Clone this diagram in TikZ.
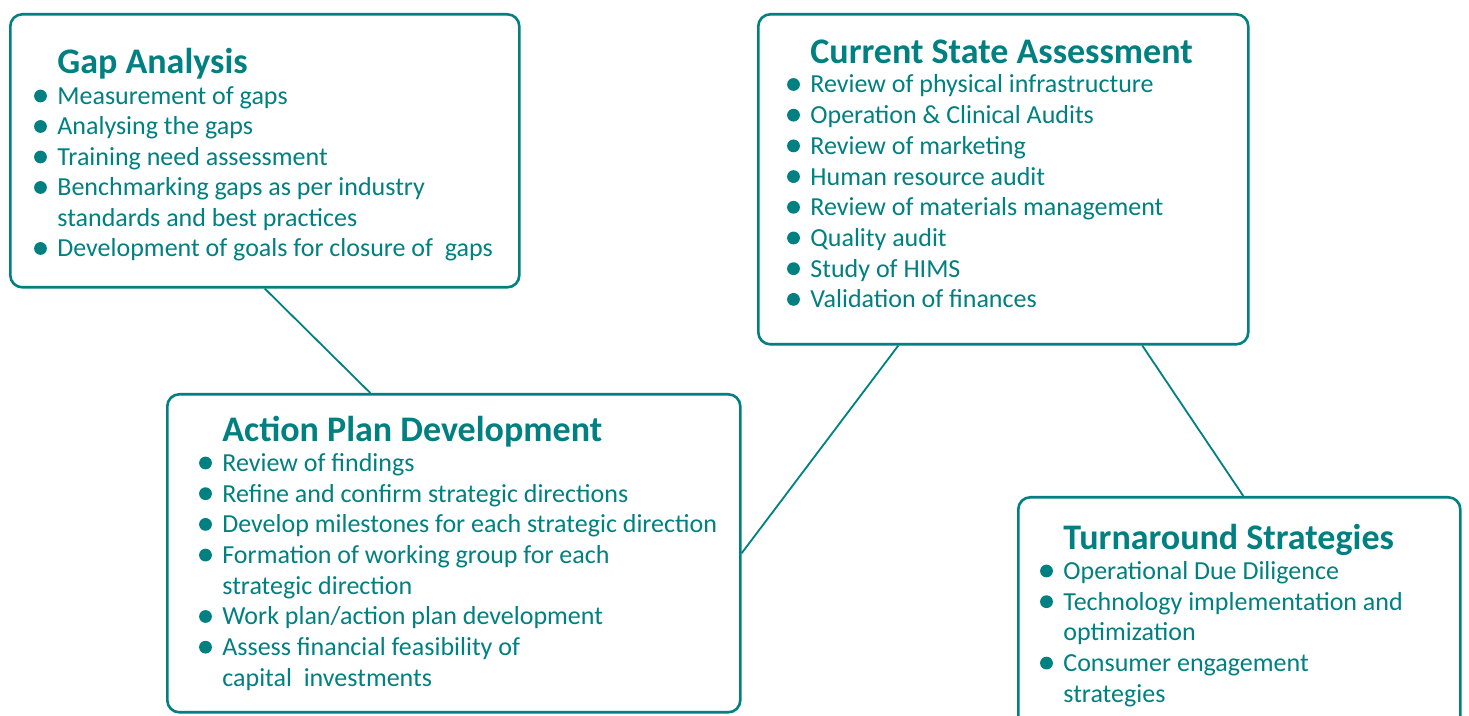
\documentclass[tikz,border=0pt]{standalone}
\usepackage{fontspec}
\setmainfont{Carlito}
\definecolor{teal}{RGB}{0,128,128}
\tikzset{
  box/.style={draw=teal, line width=1.3pt, rounded corners=6pt, fill=white, anchor=north west, inner sep=0pt},
  ttl/.style={anchor=base west, inner sep=0pt, text=teal, font=\fontsize{18pt}{20pt}\selectfont\bfseries},
  txt/.style={anchor=base west, inner sep=0pt, text=teal, font=\fontsize{13pt}{15pt}\selectfont},
  link/.style={draw=teal, line width=0.9pt},
  dot/.style={fill=teal}
}
\newcommand\bulline[4]{\fill[dot] (#2-16.5,#3-8.5) circle[radius=3.2pt]; \node[txt] (#1) at (#2,#3) {#4};}
\newcommand\contline[4]{\node[txt] (#1) at (#2,#3) {#4};}
\begin{document}
\begin{tikzpicture}[x=0.5pt,y=-0.5pt]
\useasboundingbox (0,0) rectangle (1469,716);
\clip (0,0) rectangle (1469,716);
% boxes
\node[box, minimum width=254.5pt, minimum height=136.5pt] (gap) at (9,13) {};
\node[box, minimum width=245pt, minimum height=165pt] (cur) at (757,13) {};
\node[box, minimum width=286.5pt, minimum height=159pt] (act) at (166,393) {};
\node[box, minimum width=221pt, minimum height=160pt] (ts) at (1017,496) {};
% connectors
\draw[link] (gap.south) -- ([xshift=-41.75pt]act.north);
\draw[link] ([xshift=-52.5pt]cur.south) -- (act.east);
\draw[link] ([xshift=69.5pt]cur.south) -- ([xshift=2pt]ts.north);
% Gap Analysis
\node[ttl] (gapt) at (57,74) {Gap Analysis};
\bulline{g1}{57}{104.5}{Measurement of gaps}
\bulline{g2}{57}{135}{Analysing the gaps}
\bulline{g3}{57}{165.5}{Training need assessment}
\bulline{g4}{57}{196}{Benchmarking gaps as per industry}
\contline{g4b}{57}{226.5}{standards and best practices}
\bulline{g5}{57}{257}{Development of goals for closure of \ gaps}
% Current State Assessment
\node[ttl] (curt) at (810,64) {Current State Assessment};
\bulline{c1}{810}{93}{Review of physical infrastructure}
\bulline{c2}{810}{123.7}{Operation \& Clinical Audits}
\bulline{c3}{810}{154.4}{Review of marketing}
\bulline{c4}{810}{185.1}{Human resource audit}
\bulline{c5}{810}{215.8}{Review of materials management}
\bulline{c6}{810}{246.5}{Quality audit}
\bulline{c7}{810}{277.2}{Study of HIMS}
\bulline{c8}{810}{307.9}{Validation of finances}
% Action Plan Development
\node[ttl] (actt) at (222,442) {Action Plan Development};
\bulline{a1}{222}{471.5}{Review of findings}
\bulline{a2}{222}{502.2}{Refine and confirm strategic directions}
\bulline{a3}{222}{532.9}{Develop milestones for each strategic direction}
\bulline{a4}{222}{563.6}{Formation of working group for each}
\contline{a4b}{222}{594.3}{strategic direction}
\bulline{a5}{222}{625}{Work plan/action plan development}
\bulline{a6}{222}{655.7}{Assess financial feasibility of}
\contline{a6b}{222}{686.4}{capital \ investments}
% Turnaround Strategies
\node[ttl] (tst) at (1063,550) {Turnaround Strategies};
\bulline{t1}{1063}{579.5}{Operational Due Diligence}
\bulline{t2}{1063}{610.2}{Technology implementation and}
\contline{t2b}{1063}{640.9}{optimization}
\bulline{t3}{1063}{671.6}{Consumer engagement}
\contline{t3b}{1063}{702.3}{strategies}
\end{tikzpicture}
\end{document}
